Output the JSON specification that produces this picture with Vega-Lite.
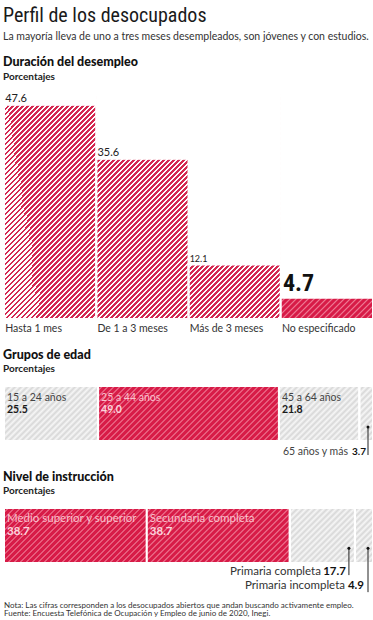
{
"$schema":"https://vega.github.io/schema/vega-lite/v6.json",
"background":"#ffffff",
"padding":{"left":3,"right":1,"top":5,"bottom":2},
"bounds":"flush",
"spacing":67,
"title":{"text":"Perfil de los desocupados","subtitle":"La mayoría lleva de uno a tres meses desempleados, son jóvenes y con estudios.","anchor":"start","font":"Liberation Sans Narrow, Roboto Condensed, DejaVu Sans Condensed, sans-serif","fontSize":20,"fontWeight":"normal","color":"#1a1a1a","subtitleFont":"Lato","subtitleFontSize":10.5,"subtitleFontWeight":"normal","subtitleColor":"#333333","subtitlePadding":6,"offset":14},
"config":{"font":"Lato","view":{"stroke":null},"title":{"anchor":"start","font":"Lato","fontSize":12.5,"fontWeight":900,"color":"#111111","subtitleFont":"Lato","subtitleFontSize":10,"subtitleFontWeight":"bold","subtitleColor":"#222222","subtitlePadding":3,"offset":11}},
"vconcat":[
{
"width":369,"height":225,
"title":{"text":"Duración del desempleo","subtitle":"Porcentajes"},
"view":{"fill":{"gradient":"linear","x1":0,"y1":0,"x2":0.98776,"y2":0.60229,"stops":[
{"offset":0,"color":"#d42851"},{"offset":0.005,"color":"#d42851"},{"offset":0.005,"color":"#fff"},{"offset":0.01,"color":"#fff"},
{"offset":0.01,"color":"#d42851"},{"offset":0.015,"color":"#d42851"},{"offset":0.015,"color":"#fff"},{"offset":0.02,"color":"#fff"},
{"offset":0.02,"color":"#d42851"},{"offset":0.025,"color":"#d42851"},{"offset":0.025,"color":"#fff"},{"offset":0.03,"color":"#fff"},
{"offset":0.03,"color":"#d42851"},{"offset":0.035,"color":"#d42851"},{"offset":0.035,"color":"#fff"},{"offset":0.04,"color":"#fff"},
{"offset":0.04,"color":"#d42851"},{"offset":0.045,"color":"#d42851"},{"offset":0.045,"color":"#fff"},{"offset":0.05,"color":"#fff"},
{"offset":0.05,"color":"#d42851"},{"offset":0.055,"color":"#d42851"},{"offset":0.055,"color":"#fff"},{"offset":0.06,"color":"#fff"},
{"offset":0.06,"color":"#d42851"},{"offset":0.065,"color":"#d42851"},{"offset":0.065,"color":"#fff"},{"offset":0.07,"color":"#fff"},
{"offset":0.07,"color":"#d42851"},{"offset":0.075,"color":"#d42851"},{"offset":0.075,"color":"#fff"},{"offset":0.08,"color":"#fff"},
{"offset":0.08,"color":"#d42851"},{"offset":0.085,"color":"#d42851"},{"offset":0.085,"color":"#fff"},{"offset":0.09,"color":"#fff"},
{"offset":0.09,"color":"#d42851"},{"offset":0.095,"color":"#d42851"},{"offset":0.095,"color":"#fff"},{"offset":0.1,"color":"#fff"},
{"offset":0.1,"color":"#d42851"},{"offset":0.105,"color":"#d42851"},{"offset":0.105,"color":"#fff"},{"offset":0.11,"color":"#fff"},
{"offset":0.11,"color":"#d42851"},{"offset":0.115,"color":"#d42851"},{"offset":0.115,"color":"#fff"},{"offset":0.12,"color":"#fff"},
{"offset":0.12,"color":"#d42851"},{"offset":0.125,"color":"#d42851"},{"offset":0.125,"color":"#fff"},{"offset":0.13,"color":"#fff"},
{"offset":0.13,"color":"#d42851"},{"offset":0.135,"color":"#d42851"},{"offset":0.135,"color":"#fff"},{"offset":0.14,"color":"#fff"},
{"offset":0.14,"color":"#d42851"},{"offset":0.145,"color":"#d42851"},{"offset":0.145,"color":"#fff"},{"offset":0.15,"color":"#fff"},
{"offset":0.15,"color":"#d42851"},{"offset":0.155,"color":"#d42851"},{"offset":0.155,"color":"#fff"},{"offset":0.16,"color":"#fff"},
{"offset":0.16,"color":"#d42851"},{"offset":0.165,"color":"#d42851"},{"offset":0.165,"color":"#fff"},{"offset":0.17,"color":"#fff"},
{"offset":0.17,"color":"#d42851"},{"offset":0.175,"color":"#d42851"},{"offset":0.175,"color":"#fff"},{"offset":0.18,"color":"#fff"},
{"offset":0.18,"color":"#d42851"},{"offset":0.185,"color":"#d42851"},{"offset":0.185,"color":"#fff"},{"offset":0.19,"color":"#fff"},
{"offset":0.19,"color":"#d42851"},{"offset":0.195,"color":"#d42851"},{"offset":0.195,"color":"#fff"},{"offset":0.2,"color":"#fff"},
{"offset":0.2,"color":"#d42851"},{"offset":0.205,"color":"#d42851"},{"offset":0.205,"color":"#fff"},{"offset":0.21,"color":"#fff"},
{"offset":0.21,"color":"#d42851"},{"offset":0.215,"color":"#d42851"},{"offset":0.215,"color":"#fff"},{"offset":0.22,"color":"#fff"},
{"offset":0.22,"color":"#d42851"},{"offset":0.225,"color":"#d42851"},{"offset":0.225,"color":"#fff"},{"offset":0.23,"color":"#fff"},
{"offset":0.23,"color":"#d42851"},{"offset":0.235,"color":"#d42851"},{"offset":0.235,"color":"#fff"},{"offset":0.24,"color":"#fff"},
{"offset":0.24,"color":"#d42851"},{"offset":0.245,"color":"#d42851"},{"offset":0.245,"color":"#fff"},{"offset":0.25,"color":"#fff"},
{"offset":0.25,"color":"#d42851"},{"offset":0.255,"color":"#d42851"},{"offset":0.255,"color":"#fff"},{"offset":0.26,"color":"#fff"},
{"offset":0.26,"color":"#d42851"},{"offset":0.265,"color":"#d42851"},{"offset":0.265,"color":"#fff"},{"offset":0.27,"color":"#fff"},
{"offset":0.27,"color":"#d42851"},{"offset":0.275,"color":"#d42851"},{"offset":0.275,"color":"#fff"},{"offset":0.28,"color":"#fff"},
{"offset":0.28,"color":"#d42851"},{"offset":0.285,"color":"#d42851"},{"offset":0.285,"color":"#fff"},{"offset":0.29,"color":"#fff"},
{"offset":0.29,"color":"#d42851"},{"offset":0.295,"color":"#d42851"},{"offset":0.295,"color":"#fff"},{"offset":0.3,"color":"#fff"},
{"offset":0.3,"color":"#d42851"},{"offset":0.305,"color":"#d42851"},{"offset":0.305,"color":"#fff"},{"offset":0.31,"color":"#fff"},
{"offset":0.31,"color":"#d42851"},{"offset":0.315,"color":"#d42851"},{"offset":0.315,"color":"#fff"},{"offset":0.32,"color":"#fff"},
{"offset":0.32,"color":"#d42851"},{"offset":0.325,"color":"#d42851"},{"offset":0.325,"color":"#fff"},{"offset":0.33,"color":"#fff"},
{"offset":0.33,"color":"#d42851"},{"offset":0.335,"color":"#d42851"},{"offset":0.335,"color":"#fff"},{"offset":0.34,"color":"#fff"},
{"offset":0.34,"color":"#d42851"},{"offset":0.345,"color":"#d42851"},{"offset":0.345,"color":"#fff"},{"offset":0.35,"color":"#fff"},
{"offset":0.35,"color":"#d42851"},{"offset":0.355,"color":"#d42851"},{"offset":0.355,"color":"#fff"},{"offset":0.36,"color":"#fff"},
{"offset":0.36,"color":"#d42851"},{"offset":0.365,"color":"#d42851"},{"offset":0.365,"color":"#fff"},{"offset":0.37,"color":"#fff"},
{"offset":0.37,"color":"#d42851"},{"offset":0.375,"color":"#d42851"},{"offset":0.375,"color":"#fff"},{"offset":0.38,"color":"#fff"},
{"offset":0.38,"color":"#d42851"},{"offset":0.385,"color":"#d42851"},{"offset":0.385,"color":"#fff"},{"offset":0.39,"color":"#fff"},
{"offset":0.39,"color":"#d42851"},{"offset":0.395,"color":"#d42851"},{"offset":0.395,"color":"#fff"},{"offset":0.4,"color":"#fff"},
{"offset":0.4,"color":"#d42851"},{"offset":0.405,"color":"#d42851"},{"offset":0.405,"color":"#fff"},{"offset":0.41,"color":"#fff"},
{"offset":0.41,"color":"#d42851"},{"offset":0.415,"color":"#d42851"},{"offset":0.415,"color":"#fff"},{"offset":0.42,"color":"#fff"},
{"offset":0.42,"color":"#d42851"},{"offset":0.425,"color":"#d42851"},{"offset":0.425,"color":"#fff"},{"offset":0.43,"color":"#fff"},
{"offset":0.43,"color":"#d42851"},{"offset":0.435,"color":"#d42851"},{"offset":0.435,"color":"#fff"},{"offset":0.44,"color":"#fff"},
{"offset":0.44,"color":"#d42851"},{"offset":0.445,"color":"#d42851"},{"offset":0.445,"color":"#fff"},{"offset":0.45,"color":"#fff"},
{"offset":0.45,"color":"#d42851"},{"offset":0.455,"color":"#d42851"},{"offset":0.455,"color":"#fff"},{"offset":0.46,"color":"#fff"},
{"offset":0.46,"color":"#d42851"},{"offset":0.465,"color":"#d42851"},{"offset":0.465,"color":"#fff"},{"offset":0.47,"color":"#fff"},
{"offset":0.47,"color":"#d42851"},{"offset":0.475,"color":"#d42851"},{"offset":0.475,"color":"#fff"},{"offset":0.48,"color":"#fff"},
{"offset":0.48,"color":"#d42851"},{"offset":0.485,"color":"#d42851"},{"offset":0.485,"color":"#fff"},{"offset":0.49,"color":"#fff"},
{"offset":0.49,"color":"#d42851"},{"offset":0.495,"color":"#d42851"},{"offset":0.495,"color":"#fff"},{"offset":0.5,"color":"#fff"},
{"offset":0.5,"color":"#d42851"},{"offset":0.505,"color":"#d42851"},{"offset":0.505,"color":"#fff"},{"offset":0.51,"color":"#fff"},
{"offset":0.51,"color":"#d42851"},{"offset":0.515,"color":"#d42851"},{"offset":0.515,"color":"#fff"},{"offset":0.52,"color":"#fff"},
{"offset":0.52,"color":"#d42851"},{"offset":0.525,"color":"#d42851"},{"offset":0.525,"color":"#fff"},{"offset":0.53,"color":"#fff"},
{"offset":0.53,"color":"#d42851"},{"offset":0.535,"color":"#d42851"},{"offset":0.535,"color":"#fff"},{"offset":0.54,"color":"#fff"},
{"offset":0.54,"color":"#d42851"},{"offset":0.545,"color":"#d42851"},{"offset":0.545,"color":"#fff"},{"offset":0.55,"color":"#fff"},
{"offset":0.55,"color":"#d42851"},{"offset":0.555,"color":"#d42851"},{"offset":0.555,"color":"#fff"},{"offset":0.56,"color":"#fff"},
{"offset":0.56,"color":"#d42851"},{"offset":0.565,"color":"#d42851"},{"offset":0.565,"color":"#fff"},{"offset":0.57,"color":"#fff"},
{"offset":0.57,"color":"#d42851"},{"offset":0.575,"color":"#d42851"},{"offset":0.575,"color":"#fff"},{"offset":0.58,"color":"#fff"},
{"offset":0.58,"color":"#d42851"},{"offset":0.585,"color":"#d42851"},{"offset":0.585,"color":"#fff"},{"offset":0.59,"color":"#fff"},
{"offset":0.59,"color":"#d42851"},{"offset":0.595,"color":"#d42851"},{"offset":0.595,"color":"#fff"},{"offset":0.6,"color":"#fff"},
{"offset":0.6,"color":"#d42851"},{"offset":0.605,"color":"#d42851"},{"offset":0.605,"color":"#fff"},{"offset":0.61,"color":"#fff"},
{"offset":0.61,"color":"#d42851"},{"offset":0.615,"color":"#d42851"},{"offset":0.615,"color":"#fff"},{"offset":0.62,"color":"#fff"},
{"offset":0.62,"color":"#d42851"},{"offset":0.625,"color":"#d42851"},{"offset":0.625,"color":"#fff"},{"offset":0.63,"color":"#fff"},
{"offset":0.63,"color":"#d42851"},{"offset":0.635,"color":"#d42851"},{"offset":0.635,"color":"#fff"},{"offset":0.64,"color":"#fff"},
{"offset":0.64,"color":"#d42851"},{"offset":0.645,"color":"#d42851"},{"offset":0.645,"color":"#fff"},{"offset":0.65,"color":"#fff"},
{"offset":0.65,"color":"#d42851"},{"offset":0.655,"color":"#d42851"},{"offset":0.655,"color":"#fff"},{"offset":0.66,"color":"#fff"},
{"offset":0.66,"color":"#d42851"},{"offset":0.665,"color":"#d42851"},{"offset":0.665,"color":"#fff"},{"offset":0.67,"color":"#fff"},
{"offset":0.67,"color":"#d42851"},{"offset":0.675,"color":"#d42851"},{"offset":0.675,"color":"#fff"},{"offset":0.68,"color":"#fff"},
{"offset":0.68,"color":"#d42851"},{"offset":0.685,"color":"#d42851"},{"offset":0.685,"color":"#fff"},{"offset":0.69,"color":"#fff"},
{"offset":0.69,"color":"#d42851"},{"offset":0.695,"color":"#d42851"},{"offset":0.695,"color":"#fff"},{"offset":0.7,"color":"#fff"},
{"offset":0.7,"color":"#d42851"},{"offset":0.705,"color":"#d42851"},{"offset":0.705,"color":"#fff"},{"offset":0.71,"color":"#fff"},
{"offset":0.71,"color":"#d42851"},{"offset":0.715,"color":"#d42851"},{"offset":0.715,"color":"#fff"},{"offset":0.72,"color":"#fff"},
{"offset":0.72,"color":"#d42851"},{"offset":0.725,"color":"#d42851"},{"offset":0.725,"color":"#fff"},{"offset":0.73,"color":"#fff"},
{"offset":0.73,"color":"#d42851"},{"offset":0.735,"color":"#d42851"},{"offset":0.735,"color":"#fff"},{"offset":0.74,"color":"#fff"},
{"offset":0.74,"color":"#d42851"},{"offset":0.745,"color":"#d42851"},{"offset":0.745,"color":"#fff"},{"offset":0.75,"color":"#fff"},
{"offset":0.75,"color":"#d42851"},{"offset":0.755,"color":"#d42851"},{"offset":0.755,"color":"#fff"},{"offset":0.76,"color":"#fff"},
{"offset":0.76,"color":"#d42851"},{"offset":0.765,"color":"#d42851"},{"offset":0.765,"color":"#fff"},{"offset":0.77,"color":"#fff"},
{"offset":0.77,"color":"#d42851"},{"offset":0.775,"color":"#d42851"},{"offset":0.775,"color":"#fff"},{"offset":0.78,"color":"#fff"},
{"offset":0.78,"color":"#d42851"},{"offset":0.785,"color":"#d42851"},{"offset":0.785,"color":"#fff"},{"offset":0.79,"color":"#fff"},
{"offset":0.79,"color":"#d42851"},{"offset":0.795,"color":"#d42851"},{"offset":0.795,"color":"#fff"},{"offset":0.8,"color":"#fff"},
{"offset":0.8,"color":"#d42851"},{"offset":0.805,"color":"#d42851"},{"offset":0.805,"color":"#fff"},{"offset":0.81,"color":"#fff"},
{"offset":0.81,"color":"#d42851"},{"offset":0.815,"color":"#d42851"},{"offset":0.815,"color":"#fff"},{"offset":0.82,"color":"#fff"},
{"offset":0.82,"color":"#d42851"},{"offset":0.825,"color":"#d42851"},{"offset":0.825,"color":"#fff"},{"offset":0.83,"color":"#fff"},
{"offset":0.83,"color":"#d42851"},{"offset":0.835,"color":"#d42851"},{"offset":0.835,"color":"#fff"},{"offset":0.84,"color":"#fff"},
{"offset":0.84,"color":"#d42851"},{"offset":0.845,"color":"#d42851"},{"offset":0.845,"color":"#fff"},{"offset":0.85,"color":"#fff"},
{"offset":0.85,"color":"#d42851"},{"offset":0.855,"color":"#d42851"},{"offset":0.855,"color":"#fff"},{"offset":0.86,"color":"#fff"},
{"offset":0.86,"color":"#d42851"},{"offset":0.865,"color":"#d42851"},{"offset":0.865,"color":"#fff"},{"offset":0.87,"color":"#fff"},
{"offset":0.87,"color":"#d42851"},{"offset":0.875,"color":"#d42851"},{"offset":0.875,"color":"#fff"},{"offset":0.88,"color":"#fff"},
{"offset":0.88,"color":"#d42851"},{"offset":0.885,"color":"#d42851"},{"offset":0.885,"color":"#fff"},{"offset":0.89,"color":"#fff"},
{"offset":0.89,"color":"#d42851"},{"offset":0.895,"color":"#d42851"},{"offset":0.895,"color":"#fff"},{"offset":0.9,"color":"#fff"},
{"offset":0.9,"color":"#d42851"},{"offset":0.905,"color":"#d42851"},{"offset":0.905,"color":"#fff"},{"offset":0.91,"color":"#fff"},
{"offset":0.91,"color":"#d42851"},{"offset":0.915,"color":"#d42851"},{"offset":0.915,"color":"#fff"},{"offset":0.92,"color":"#fff"},
{"offset":0.92,"color":"#d42851"},{"offset":0.925,"color":"#d42851"},{"offset":0.925,"color":"#fff"},{"offset":0.93,"color":"#fff"},
{"offset":0.93,"color":"#d42851"},{"offset":0.935,"color":"#d42851"},{"offset":0.935,"color":"#fff"},{"offset":0.94,"color":"#fff"},
{"offset":0.94,"color":"#d42851"},{"offset":0.945,"color":"#d42851"},{"offset":0.945,"color":"#fff"},{"offset":0.95,"color":"#fff"},
{"offset":0.95,"color":"#d42851"},{"offset":0.955,"color":"#d42851"},{"offset":0.955,"color":"#fff"},{"offset":0.96,"color":"#fff"},
{"offset":0.96,"color":"#d42851"},{"offset":0.965,"color":"#d42851"},{"offset":0.965,"color":"#fff"},{"offset":0.97,"color":"#fff"},
{"offset":0.97,"color":"#d42851"},{"offset":0.975,"color":"#d42851"},{"offset":0.975,"color":"#fff"},{"offset":0.98,"color":"#fff"},
{"offset":0.98,"color":"#d42851"},{"offset":0.985,"color":"#d42851"},{"offset":0.985,"color":"#fff"},{"offset":0.99,"color":"#fff"},
{"offset":0.99,"color":"#d42851"},{"offset":0.995,"color":"#d42851"},{"offset":0.995,"color":"#fff"},{"offset":1,"color":"#fff"}
]}},
"data":{"values":[
{"duracion":"Hasta 1 mes","pct":47.6},
{"duracion":"De 1 a 3 meses","pct":35.6},
{"duracion":"Más de 3 meses","pct":12.1},
{"duracion":"No especificado","pct":4.7}
]},
"encoding":{
"x":{"field":"duracion","type":"nominal","sort":null,"scale":{"paddingInner":0,"paddingOuter":0},"axis":{"title":null,"domain":false,"ticks":false,"labelAngle":0,"labelAlign":"left","labelOffset":-45,"labelPadding":4,"labelFontSize":10.5,"labelFont":"Lato","labelColor":"#333333","labelOverlap":false,"labelBound":false}},
"y":{"field":"pct","type":"quantitative","scale":{"domain":[0,50]},"axis":null}
},
"layer":[
{"mark":{"type":"bar","fill":"#ffffff","stroke":"#ffffff","strokeWidth":1},"encoding":{"y2":{"datum":50}}},
{"mark":{"type":"bar","fill":"transparent","stroke":"#ffffff","strokeWidth":2}},
{"transform":[{"filter":"datum.duracion === 'No especificado'"}],
 "mark":{"type":"bar","stroke":"#ffffff","strokeWidth":2,"fill":{"gradient":"linear","x1":0,"y1":0,"x2":3.0897,"y2":0.70835,"stops":[
{"offset":0,"color":"#d71b47"},{"offset":0.01,"color":"#d71b47"},{"offset":0.015,"color":"#ef7d96"},
{"offset":0.02,"color":"#d71b47"},{"offset":0.03,"color":"#d71b47"},{"offset":0.035,"color":"#ef7d96"},
{"offset":0.04,"color":"#d71b47"},{"offset":0.05,"color":"#d71b47"},{"offset":0.055,"color":"#ef7d96"},
{"offset":0.06,"color":"#d71b47"},{"offset":0.07,"color":"#d71b47"},{"offset":0.075,"color":"#ef7d96"},
{"offset":0.08,"color":"#d71b47"},{"offset":0.09,"color":"#d71b47"},{"offset":0.095,"color":"#ef7d96"},
{"offset":0.1,"color":"#d71b47"},{"offset":0.11,"color":"#d71b47"},{"offset":0.115,"color":"#ef7d96"},
{"offset":0.12,"color":"#d71b47"},{"offset":0.13,"color":"#d71b47"},{"offset":0.135,"color":"#ef7d96"},
{"offset":0.14,"color":"#d71b47"},{"offset":0.15,"color":"#d71b47"},{"offset":0.155,"color":"#ef7d96"},
{"offset":0.16,"color":"#d71b47"},{"offset":0.17,"color":"#d71b47"},{"offset":0.175,"color":"#ef7d96"},
{"offset":0.18,"color":"#d71b47"},{"offset":0.19,"color":"#d71b47"},{"offset":0.195,"color":"#ef7d96"},
{"offset":0.2,"color":"#d71b47"},{"offset":0.21,"color":"#d71b47"},{"offset":0.215,"color":"#ef7d96"},
{"offset":0.22,"color":"#d71b47"},{"offset":0.23,"color":"#d71b47"},{"offset":0.235,"color":"#ef7d96"},
{"offset":0.24,"color":"#d71b47"},{"offset":0.25,"color":"#d71b47"},{"offset":0.255,"color":"#ef7d96"},
{"offset":0.26,"color":"#d71b47"},{"offset":0.27,"color":"#d71b47"},{"offset":0.275,"color":"#ef7d96"},
{"offset":0.28,"color":"#d71b47"},{"offset":0.29,"color":"#d71b47"},{"offset":0.295,"color":"#ef7d96"},
{"offset":0.3,"color":"#d71b47"},{"offset":0.31,"color":"#d71b47"},{"offset":0.315,"color":"#ef7d96"},
{"offset":0.32,"color":"#d71b47"},{"offset":0.33,"color":"#d71b47"},{"offset":0.335,"color":"#ef7d96"},
{"offset":0.34,"color":"#d71b47"},{"offset":0.35,"color":"#d71b47"},{"offset":0.355,"color":"#ef7d96"},
{"offset":0.36,"color":"#d71b47"},{"offset":0.37,"color":"#d71b47"},{"offset":0.375,"color":"#ef7d96"},
{"offset":0.38,"color":"#d71b47"}
]}}},
{"transform":[{"filter":"datum.duracion !== 'No especificado'"}],
 "mark":{"type":"text","align":"left","baseline":"bottom","dx":-45,"dy":-1,"color":"#222222","font":"Lato"},
 "encoding":{"text":{"field":"pct","type":"quantitative","format":".1f"},"size":{"condition":{"test":"datum.duracion === 'Más de 3 meses'","value":9},"value":11}}},
{"transform":[{"filter":"datum.duracion === 'No especificado'"}],
 "mark":{"type":"text","align":"left","baseline":"bottom","dx":-44,"dy":-2,"font":"Liberation Sans Narrow, Roboto Condensed, DejaVu Sans Condensed, sans-serif","fontSize":24,"fontWeight":"bold","color":"#111111"},
 "encoding":{"text":{"field":"pct","type":"quantitative","format":".1f"}}}
]
},
{
"width":369,"height":55,
"title":{"text":"Grupos de edad","subtitle":"Porcentajes"},
"view":{"fill":{"gradient":"linear","x1":0,"y1":0,"x2":1.59068,"y2":0.23709,"stops":[
{"offset":0,"color":"#d9d9d9"},{"offset":0.005,"color":"#f5f5f5"},{"offset":0.01,"color":"#d9d9d9"},{"offset":0.015,"color":"#f5f5f5"},
{"offset":0.02,"color":"#d9d9d9"},{"offset":0.025,"color":"#f5f5f5"},{"offset":0.03,"color":"#d9d9d9"},{"offset":0.035,"color":"#f5f5f5"},
{"offset":0.04,"color":"#d9d9d9"},{"offset":0.045,"color":"#f5f5f5"},{"offset":0.05,"color":"#d9d9d9"},{"offset":0.055,"color":"#f5f5f5"},
{"offset":0.06,"color":"#d9d9d9"},{"offset":0.065,"color":"#f5f5f5"},{"offset":0.07,"color":"#d9d9d9"},{"offset":0.075,"color":"#f5f5f5"},
{"offset":0.08,"color":"#d9d9d9"},{"offset":0.085,"color":"#f5f5f5"},{"offset":0.09,"color":"#d9d9d9"},{"offset":0.095,"color":"#f5f5f5"},
{"offset":0.1,"color":"#d9d9d9"},{"offset":0.105,"color":"#f5f5f5"},{"offset":0.11,"color":"#d9d9d9"},{"offset":0.115,"color":"#f5f5f5"},
{"offset":0.12,"color":"#d9d9d9"},{"offset":0.125,"color":"#f5f5f5"},{"offset":0.13,"color":"#d9d9d9"},{"offset":0.135,"color":"#f5f5f5"},
{"offset":0.14,"color":"#d9d9d9"},{"offset":0.145,"color":"#f5f5f5"},{"offset":0.15,"color":"#d9d9d9"},{"offset":0.155,"color":"#f5f5f5"},
{"offset":0.16,"color":"#d9d9d9"},{"offset":0.165,"color":"#f5f5f5"},{"offset":0.17,"color":"#d9d9d9"},{"offset":0.175,"color":"#f5f5f5"},
{"offset":0.18,"color":"#d9d9d9"},{"offset":0.185,"color":"#f5f5f5"},{"offset":0.19,"color":"#d9d9d9"},{"offset":0.195,"color":"#f5f5f5"},
{"offset":0.2,"color":"#d9d9d9"},{"offset":0.205,"color":"#f5f5f5"},{"offset":0.21,"color":"#d9d9d9"},{"offset":0.215,"color":"#f5f5f5"},
{"offset":0.22,"color":"#d9d9d9"},{"offset":0.225,"color":"#f5f5f5"},{"offset":0.23,"color":"#d9d9d9"},{"offset":0.235,"color":"#f5f5f5"},
{"offset":0.24,"color":"#d9d9d9"},{"offset":0.245,"color":"#f5f5f5"},{"offset":0.25,"color":"#d9d9d9"},{"offset":0.255,"color":"#f5f5f5"},
{"offset":0.26,"color":"#d9d9d9"},{"offset":0.265,"color":"#f5f5f5"},{"offset":0.27,"color":"#d9d9d9"},{"offset":0.275,"color":"#f5f5f5"},
{"offset":0.28,"color":"#d9d9d9"},{"offset":0.285,"color":"#f5f5f5"},{"offset":0.29,"color":"#d9d9d9"},{"offset":0.295,"color":"#f5f5f5"},
{"offset":0.3,"color":"#d9d9d9"},{"offset":0.305,"color":"#f5f5f5"},{"offset":0.31,"color":"#d9d9d9"},{"offset":0.315,"color":"#f5f5f5"},
{"offset":0.32,"color":"#d9d9d9"},{"offset":0.325,"color":"#f5f5f5"},{"offset":0.33,"color":"#d9d9d9"},{"offset":0.335,"color":"#f5f5f5"},
{"offset":0.34,"color":"#d9d9d9"},{"offset":0.345,"color":"#f5f5f5"},{"offset":0.35,"color":"#d9d9d9"},{"offset":0.355,"color":"#f5f5f5"},
{"offset":0.36,"color":"#d9d9d9"},{"offset":0.365,"color":"#f5f5f5"},{"offset":0.37,"color":"#d9d9d9"},{"offset":0.375,"color":"#f5f5f5"},
{"offset":0.38,"color":"#d9d9d9"},{"offset":0.385,"color":"#f5f5f5"},{"offset":0.39,"color":"#d9d9d9"},{"offset":0.395,"color":"#f5f5f5"},
{"offset":0.4,"color":"#d9d9d9"},{"offset":0.405,"color":"#f5f5f5"},{"offset":0.41,"color":"#d9d9d9"},{"offset":0.415,"color":"#f5f5f5"},
{"offset":0.42,"color":"#d9d9d9"},{"offset":0.425,"color":"#f5f5f5"},{"offset":0.43,"color":"#d9d9d9"},{"offset":0.435,"color":"#f5f5f5"},
{"offset":0.44,"color":"#d9d9d9"},{"offset":0.445,"color":"#f5f5f5"},{"offset":0.45,"color":"#d9d9d9"},{"offset":0.455,"color":"#f5f5f5"},
{"offset":0.46,"color":"#d9d9d9"},{"offset":0.465,"color":"#f5f5f5"},{"offset":0.47,"color":"#d9d9d9"},{"offset":0.475,"color":"#f5f5f5"},
{"offset":0.48,"color":"#d9d9d9"},{"offset":0.485,"color":"#f5f5f5"},{"offset":0.49,"color":"#d9d9d9"},{"offset":0.495,"color":"#f5f5f5"},
{"offset":0.5,"color":"#d9d9d9"},{"offset":0.505,"color":"#f5f5f5"},{"offset":0.51,"color":"#d9d9d9"},{"offset":0.515,"color":"#f5f5f5"},
{"offset":0.52,"color":"#d9d9d9"},{"offset":0.525,"color":"#f5f5f5"},{"offset":0.53,"color":"#d9d9d9"},{"offset":0.535,"color":"#f5f5f5"},
{"offset":0.54,"color":"#d9d9d9"},{"offset":0.545,"color":"#f5f5f5"},{"offset":0.55,"color":"#d9d9d9"},{"offset":0.555,"color":"#f5f5f5"},
{"offset":0.56,"color":"#d9d9d9"},{"offset":0.565,"color":"#f5f5f5"},{"offset":0.57,"color":"#d9d9d9"},{"offset":0.575,"color":"#f5f5f5"},
{"offset":0.58,"color":"#d9d9d9"},{"offset":0.585,"color":"#f5f5f5"},{"offset":0.59,"color":"#d9d9d9"},{"offset":0.595,"color":"#f5f5f5"},
{"offset":0.6,"color":"#d9d9d9"},{"offset":0.605,"color":"#f5f5f5"},{"offset":0.61,"color":"#d9d9d9"},{"offset":0.615,"color":"#f5f5f5"},
{"offset":0.62,"color":"#d9d9d9"},{"offset":0.625,"color":"#f5f5f5"},{"offset":0.63,"color":"#d9d9d9"},{"offset":0.635,"color":"#f5f5f5"},
{"offset":0.64,"color":"#d9d9d9"},{"offset":0.645,"color":"#f5f5f5"},{"offset":0.65,"color":"#d9d9d9"},{"offset":0.655,"color":"#f5f5f5"},
{"offset":0.66,"color":"#d9d9d9"},{"offset":0.665,"color":"#f5f5f5"},{"offset":0.67,"color":"#d9d9d9"},{"offset":0.675,"color":"#f5f5f5"},
{"offset":0.68,"color":"#d9d9d9"},{"offset":0.685,"color":"#f5f5f5"},{"offset":0.69,"color":"#d9d9d9"},{"offset":0.695,"color":"#f5f5f5"},
{"offset":0.7,"color":"#d9d9d9"},{"offset":0.705,"color":"#f5f5f5"},{"offset":0.71,"color":"#d9d9d9"}
]}},
"data":{"values":[
{"grupo":"15 a 24 años","pct":25.5,"orden":1},
{"grupo":"25 a 44 años","pct":49.0,"orden":2},
{"grupo":"45 a 64 años","pct":21.8,"orden":3},
{"grupo":"65 años y más","pct":3.7,"orden":4}
]},
"transform":[{"stack":"pct","groupby":[],"sort":[{"field":"orden","order":"ascending"}],"as":["x0","x1"]}],
"encoding":{"x":{"field":"x0","type":"quantitative","scale":{"domain":[0,100]},"axis":null}},
"layer":[
{"mark":{"type":"rect","fill":"transparent","stroke":"#ffffff","strokeWidth":2},
 "encoding":{"x2":{"field":"x1"},"y":{"datum":0,"type":"quantitative","scale":{"domain":[0,1]},"axis":null},"y2":{"datum":1}}},
{"transform":[{"filter":"datum.grupo === '25 a 44 años'"}],
 "mark":{"type":"rect","stroke":"#ffffff","strokeWidth":2,"fill":{"gradient":"linear","x1":0,"y1":0,"x2":1.51869,"y2":0.46197,"stops":[
{"offset":0,"color":"#d71b47"},{"offset":0.01,"color":"#d71b47"},{"offset":0.015,"color":"#ef7d96"},
{"offset":0.02,"color":"#d71b47"},{"offset":0.03,"color":"#d71b47"},{"offset":0.035,"color":"#ef7d96"},
{"offset":0.04,"color":"#d71b47"},{"offset":0.05,"color":"#d71b47"},{"offset":0.055,"color":"#ef7d96"},
{"offset":0.06,"color":"#d71b47"},{"offset":0.07,"color":"#d71b47"},{"offset":0.075,"color":"#ef7d96"},
{"offset":0.08,"color":"#d71b47"},{"offset":0.09,"color":"#d71b47"},{"offset":0.095,"color":"#ef7d96"},
{"offset":0.1,"color":"#d71b47"},{"offset":0.11,"color":"#d71b47"},{"offset":0.115,"color":"#ef7d96"},
{"offset":0.12,"color":"#d71b47"},{"offset":0.13,"color":"#d71b47"},{"offset":0.135,"color":"#ef7d96"},
{"offset":0.14,"color":"#d71b47"},{"offset":0.15,"color":"#d71b47"},{"offset":0.155,"color":"#ef7d96"},
{"offset":0.16,"color":"#d71b47"},{"offset":0.17,"color":"#d71b47"},{"offset":0.175,"color":"#ef7d96"},
{"offset":0.18,"color":"#d71b47"},{"offset":0.19,"color":"#d71b47"},{"offset":0.195,"color":"#ef7d96"},
{"offset":0.2,"color":"#d71b47"},{"offset":0.21,"color":"#d71b47"},{"offset":0.215,"color":"#ef7d96"},
{"offset":0.22,"color":"#d71b47"},{"offset":0.23,"color":"#d71b47"},{"offset":0.235,"color":"#ef7d96"},
{"offset":0.24,"color":"#d71b47"},{"offset":0.25,"color":"#d71b47"},{"offset":0.255,"color":"#ef7d96"},
{"offset":0.26,"color":"#d71b47"},{"offset":0.27,"color":"#d71b47"},{"offset":0.275,"color":"#ef7d96"},
{"offset":0.28,"color":"#d71b47"},{"offset":0.29,"color":"#d71b47"},{"offset":0.295,"color":"#ef7d96"},
{"offset":0.3,"color":"#d71b47"},{"offset":0.31,"color":"#d71b47"},{"offset":0.315,"color":"#ef7d96"},
{"offset":0.32,"color":"#d71b47"},{"offset":0.33,"color":"#d71b47"},{"offset":0.335,"color":"#ef7d96"},
{"offset":0.34,"color":"#d71b47"},{"offset":0.35,"color":"#d71b47"},{"offset":0.355,"color":"#ef7d96"},
{"offset":0.36,"color":"#d71b47"},{"offset":0.37,"color":"#d71b47"},{"offset":0.375,"color":"#ef7d96"},
{"offset":0.38,"color":"#d71b47"},{"offset":0.39,"color":"#d71b47"},{"offset":0.395,"color":"#ef7d96"},
{"offset":0.4,"color":"#d71b47"},{"offset":0.41,"color":"#d71b47"},{"offset":0.415,"color":"#ef7d96"},
{"offset":0.42,"color":"#d71b47"},{"offset":0.43,"color":"#d71b47"},{"offset":0.435,"color":"#ef7d96"},
{"offset":0.44,"color":"#d71b47"},{"offset":0.45,"color":"#d71b47"},{"offset":0.455,"color":"#ef7d96"},
{"offset":0.46,"color":"#d71b47"},{"offset":0.47,"color":"#d71b47"},{"offset":0.475,"color":"#ef7d96"},
{"offset":0.48,"color":"#d71b47"},{"offset":0.49,"color":"#d71b47"},{"offset":0.495,"color":"#ef7d96"},
{"offset":0.5,"color":"#d71b47"},{"offset":0.51,"color":"#d71b47"},{"offset":0.515,"color":"#ef7d96"},
{"offset":0.52,"color":"#d71b47"},{"offset":0.53,"color":"#d71b47"},{"offset":0.535,"color":"#ef7d96"},
{"offset":0.54,"color":"#d71b47"},{"offset":0.55,"color":"#d71b47"},{"offset":0.555,"color":"#ef7d96"},
{"offset":0.56,"color":"#d71b47"},{"offset":0.57,"color":"#d71b47"},{"offset":0.575,"color":"#ef7d96"},
{"offset":0.58,"color":"#d71b47"},{"offset":0.59,"color":"#d71b47"},{"offset":0.595,"color":"#ef7d96"},
{"offset":0.6,"color":"#d71b47"},{"offset":0.61,"color":"#d71b47"},{"offset":0.615,"color":"#ef7d96"},
{"offset":0.62,"color":"#d71b47"},{"offset":0.63,"color":"#d71b47"},{"offset":0.635,"color":"#ef7d96"},
{"offset":0.64,"color":"#d71b47"},{"offset":0.65,"color":"#d71b47"},{"offset":0.655,"color":"#ef7d96"},
{"offset":0.66,"color":"#d71b47"},{"offset":0.67,"color":"#d71b47"},{"offset":0.675,"color":"#ef7d96"},
{"offset":0.68,"color":"#d71b47"},{"offset":0.69,"color":"#d71b47"},{"offset":0.695,"color":"#ef7d96"},
{"offset":0.7,"color":"#d71b47"},{"offset":0.71,"color":"#d71b47"},{"offset":0.715,"color":"#ef7d96"},
{"offset":0.72,"color":"#d71b47"},{"offset":0.73,"color":"#d71b47"},{"offset":0.735,"color":"#ef7d96"},
{"offset":0.74,"color":"#d71b47"},{"offset":0.75,"color":"#d71b47"},{"offset":0.755,"color":"#ef7d96"},
{"offset":0.76,"color":"#d71b47"},{"offset":0.77,"color":"#d71b47"},{"offset":0.775,"color":"#ef7d96"},
{"offset":0.78,"color":"#d71b47"},{"offset":0.79,"color":"#d71b47"},{"offset":0.795,"color":"#ef7d96"},
{"offset":0.8,"color":"#d71b47"}
]}},
 "encoding":{"x2":{"field":"x1"},"y":{"datum":0,"type":"quantitative"},"y2":{"datum":1}}},
{"transform":[{"filter":"datum.pct > 10"}],
 "mark":{"type":"text","align":"left","baseline":"middle","dx":3,"fontSize":10.5,"font":"Lato"},
 "encoding":{"y":{"datum":0.78,"type":"quantitative"},"text":{"field":"grupo","type":"nominal"},"color":{"condition":{"test":"datum.grupo === '25 a 44 años'","value":"#f9c0cd"},"value":"#444444"}}},
{"transform":[{"filter":"datum.pct > 10"}],
 "mark":{"type":"text","align":"left","baseline":"middle","dx":3,"fontSize":10.5,"fontWeight":"bold","font":"Lato"},
 "encoding":{"y":{"datum":0.56,"type":"quantitative"},"text":{"field":"pct","type":"quantitative","format":".1f"},"color":{"condition":{"test":"datum.grupo === '25 a 44 años'","value":"#fbd3dc"},"value":"#1a1a1a"}}},
{"transform":[{"filter":"datum.pct < 10"}],
 "encoding":{"x":{"field":"x1","type":"quantitative"}},
 "layer":[
 {"mark":{"type":"rule","xOffset":-5,"color":"#222222","strokeWidth":1},"encoding":{"y":{"datum":0.255,"type":"quantitative"},"y2":{"datum":-0.255}}},
 {"mark":{"type":"circle","xOffset":-5,"size":9,"color":"#111111","opacity":1},"encoding":{"y":{"datum":0.255,"type":"quantitative"}}},
 {"mark":{"type":"text","align":"right","baseline":"middle","dx":-7,"fontSize":10,"fontWeight":"bold","color":"#111111","font":"Lato"},"encoding":{"y":{"datum":-0.2,"type":"quantitative"},"text":{"field":"pct","type":"quantitative","format":".1f"}}},
 {"mark":{"type":"text","align":"right","baseline":"middle","dx":-25,"fontSize":10.5,"color":"#444444","font":"Lato"},"encoding":{"y":{"datum":-0.2,"type":"quantitative"},"text":{"field":"grupo","type":"nominal"}}}
 ]}
]
},
{
"width":369,"height":55,
"title":{"text":"Nivel de instrucción","subtitle":"Porcentajes"},
"view":{"fill":{"gradient":"linear","x1":0,"y1":0,"x2":1.59068,"y2":0.23709,"stops":[
{"offset":0,"color":"#d9d9d9"},{"offset":0.005,"color":"#f5f5f5"},{"offset":0.01,"color":"#d9d9d9"},{"offset":0.015,"color":"#f5f5f5"},
{"offset":0.02,"color":"#d9d9d9"},{"offset":0.025,"color":"#f5f5f5"},{"offset":0.03,"color":"#d9d9d9"},{"offset":0.035,"color":"#f5f5f5"},
{"offset":0.04,"color":"#d9d9d9"},{"offset":0.045,"color":"#f5f5f5"},{"offset":0.05,"color":"#d9d9d9"},{"offset":0.055,"color":"#f5f5f5"},
{"offset":0.06,"color":"#d9d9d9"},{"offset":0.065,"color":"#f5f5f5"},{"offset":0.07,"color":"#d9d9d9"},{"offset":0.075,"color":"#f5f5f5"},
{"offset":0.08,"color":"#d9d9d9"},{"offset":0.085,"color":"#f5f5f5"},{"offset":0.09,"color":"#d9d9d9"},{"offset":0.095,"color":"#f5f5f5"},
{"offset":0.1,"color":"#d9d9d9"},{"offset":0.105,"color":"#f5f5f5"},{"offset":0.11,"color":"#d9d9d9"},{"offset":0.115,"color":"#f5f5f5"},
{"offset":0.12,"color":"#d9d9d9"},{"offset":0.125,"color":"#f5f5f5"},{"offset":0.13,"color":"#d9d9d9"},{"offset":0.135,"color":"#f5f5f5"},
{"offset":0.14,"color":"#d9d9d9"},{"offset":0.145,"color":"#f5f5f5"},{"offset":0.15,"color":"#d9d9d9"},{"offset":0.155,"color":"#f5f5f5"},
{"offset":0.16,"color":"#d9d9d9"},{"offset":0.165,"color":"#f5f5f5"},{"offset":0.17,"color":"#d9d9d9"},{"offset":0.175,"color":"#f5f5f5"},
{"offset":0.18,"color":"#d9d9d9"},{"offset":0.185,"color":"#f5f5f5"},{"offset":0.19,"color":"#d9d9d9"},{"offset":0.195,"color":"#f5f5f5"},
{"offset":0.2,"color":"#d9d9d9"},{"offset":0.205,"color":"#f5f5f5"},{"offset":0.21,"color":"#d9d9d9"},{"offset":0.215,"color":"#f5f5f5"},
{"offset":0.22,"color":"#d9d9d9"},{"offset":0.225,"color":"#f5f5f5"},{"offset":0.23,"color":"#d9d9d9"},{"offset":0.235,"color":"#f5f5f5"},
{"offset":0.24,"color":"#d9d9d9"},{"offset":0.245,"color":"#f5f5f5"},{"offset":0.25,"color":"#d9d9d9"},{"offset":0.255,"color":"#f5f5f5"},
{"offset":0.26,"color":"#d9d9d9"},{"offset":0.265,"color":"#f5f5f5"},{"offset":0.27,"color":"#d9d9d9"},{"offset":0.275,"color":"#f5f5f5"},
{"offset":0.28,"color":"#d9d9d9"},{"offset":0.285,"color":"#f5f5f5"},{"offset":0.29,"color":"#d9d9d9"},{"offset":0.295,"color":"#f5f5f5"},
{"offset":0.3,"color":"#d9d9d9"},{"offset":0.305,"color":"#f5f5f5"},{"offset":0.31,"color":"#d9d9d9"},{"offset":0.315,"color":"#f5f5f5"},
{"offset":0.32,"color":"#d9d9d9"},{"offset":0.325,"color":"#f5f5f5"},{"offset":0.33,"color":"#d9d9d9"},{"offset":0.335,"color":"#f5f5f5"},
{"offset":0.34,"color":"#d9d9d9"},{"offset":0.345,"color":"#f5f5f5"},{"offset":0.35,"color":"#d9d9d9"},{"offset":0.355,"color":"#f5f5f5"},
{"offset":0.36,"color":"#d9d9d9"},{"offset":0.365,"color":"#f5f5f5"},{"offset":0.37,"color":"#d9d9d9"},{"offset":0.375,"color":"#f5f5f5"},
{"offset":0.38,"color":"#d9d9d9"},{"offset":0.385,"color":"#f5f5f5"},{"offset":0.39,"color":"#d9d9d9"},{"offset":0.395,"color":"#f5f5f5"},
{"offset":0.4,"color":"#d9d9d9"},{"offset":0.405,"color":"#f5f5f5"},{"offset":0.41,"color":"#d9d9d9"},{"offset":0.415,"color":"#f5f5f5"},
{"offset":0.42,"color":"#d9d9d9"},{"offset":0.425,"color":"#f5f5f5"},{"offset":0.43,"color":"#d9d9d9"},{"offset":0.435,"color":"#f5f5f5"},
{"offset":0.44,"color":"#d9d9d9"},{"offset":0.445,"color":"#f5f5f5"},{"offset":0.45,"color":"#d9d9d9"},{"offset":0.455,"color":"#f5f5f5"},
{"offset":0.46,"color":"#d9d9d9"},{"offset":0.465,"color":"#f5f5f5"},{"offset":0.47,"color":"#d9d9d9"},{"offset":0.475,"color":"#f5f5f5"},
{"offset":0.48,"color":"#d9d9d9"},{"offset":0.485,"color":"#f5f5f5"},{"offset":0.49,"color":"#d9d9d9"},{"offset":0.495,"color":"#f5f5f5"},
{"offset":0.5,"color":"#d9d9d9"},{"offset":0.505,"color":"#f5f5f5"},{"offset":0.51,"color":"#d9d9d9"},{"offset":0.515,"color":"#f5f5f5"},
{"offset":0.52,"color":"#d9d9d9"},{"offset":0.525,"color":"#f5f5f5"},{"offset":0.53,"color":"#d9d9d9"},{"offset":0.535,"color":"#f5f5f5"},
{"offset":0.54,"color":"#d9d9d9"},{"offset":0.545,"color":"#f5f5f5"},{"offset":0.55,"color":"#d9d9d9"},{"offset":0.555,"color":"#f5f5f5"},
{"offset":0.56,"color":"#d9d9d9"},{"offset":0.565,"color":"#f5f5f5"},{"offset":0.57,"color":"#d9d9d9"},{"offset":0.575,"color":"#f5f5f5"},
{"offset":0.58,"color":"#d9d9d9"},{"offset":0.585,"color":"#f5f5f5"},{"offset":0.59,"color":"#d9d9d9"},{"offset":0.595,"color":"#f5f5f5"},
{"offset":0.6,"color":"#d9d9d9"},{"offset":0.605,"color":"#f5f5f5"},{"offset":0.61,"color":"#d9d9d9"},{"offset":0.615,"color":"#f5f5f5"},
{"offset":0.62,"color":"#d9d9d9"},{"offset":0.625,"color":"#f5f5f5"},{"offset":0.63,"color":"#d9d9d9"},{"offset":0.635,"color":"#f5f5f5"},
{"offset":0.64,"color":"#d9d9d9"},{"offset":0.645,"color":"#f5f5f5"},{"offset":0.65,"color":"#d9d9d9"},{"offset":0.655,"color":"#f5f5f5"},
{"offset":0.66,"color":"#d9d9d9"},{"offset":0.665,"color":"#f5f5f5"},{"offset":0.67,"color":"#d9d9d9"},{"offset":0.675,"color":"#f5f5f5"},
{"offset":0.68,"color":"#d9d9d9"},{"offset":0.685,"color":"#f5f5f5"},{"offset":0.69,"color":"#d9d9d9"},{"offset":0.695,"color":"#f5f5f5"},
{"offset":0.7,"color":"#d9d9d9"},{"offset":0.705,"color":"#f5f5f5"},{"offset":0.71,"color":"#d9d9d9"}
]}},
"data":{"values":[
{"nivel":"Medio superior y superior","pct":38.7,"orden":1},
{"nivel":"Secundaria completa","pct":38.7,"orden":2},
{"nivel":"Primaria completa","pct":17.7,"orden":3},
{"nivel":"Primaria incompleta","pct":4.9,"orden":4}
]},
"transform":[{"stack":"pct","groupby":[],"sort":[{"field":"orden","order":"ascending"}],"as":["x0","x1"]}],
"encoding":{"x":{"field":"x0","type":"quantitative","scale":{"domain":[0,100]},"axis":null}},
"layer":[
{"mark":{"type":"rect","fill":"transparent","stroke":"#ffffff","strokeWidth":2},
 "encoding":{"x2":{"field":"x1"},"y":{"datum":0,"type":"quantitative","scale":{"domain":[0,1]},"axis":null},"y2":{"datum":1}}},
{"transform":[{"filter":"datum.pct > 30"}],
 "mark":{"type":"rect","stroke":"#ffffff","strokeWidth":2,"fill":{"gradient":"linear","x1":0,"y1":0,"x2":1.82944,"y2":0.70462,"stops":[
{"offset":0,"color":"#d71b47"},{"offset":0.01,"color":"#d71b47"},{"offset":0.015,"color":"#ef7d96"},
{"offset":0.02,"color":"#d71b47"},{"offset":0.03,"color":"#d71b47"},{"offset":0.035,"color":"#ef7d96"},
{"offset":0.04,"color":"#d71b47"},{"offset":0.05,"color":"#d71b47"},{"offset":0.055,"color":"#ef7d96"},
{"offset":0.06,"color":"#d71b47"},{"offset":0.07,"color":"#d71b47"},{"offset":0.075,"color":"#ef7d96"},
{"offset":0.08,"color":"#d71b47"},{"offset":0.09,"color":"#d71b47"},{"offset":0.095,"color":"#ef7d96"},
{"offset":0.1,"color":"#d71b47"},{"offset":0.11,"color":"#d71b47"},{"offset":0.115,"color":"#ef7d96"},
{"offset":0.12,"color":"#d71b47"},{"offset":0.13,"color":"#d71b47"},{"offset":0.135,"color":"#ef7d96"},
{"offset":0.14,"color":"#d71b47"},{"offset":0.15,"color":"#d71b47"},{"offset":0.155,"color":"#ef7d96"},
{"offset":0.16,"color":"#d71b47"},{"offset":0.17,"color":"#d71b47"},{"offset":0.175,"color":"#ef7d96"},
{"offset":0.18,"color":"#d71b47"},{"offset":0.19,"color":"#d71b47"},{"offset":0.195,"color":"#ef7d96"},
{"offset":0.2,"color":"#d71b47"},{"offset":0.21,"color":"#d71b47"},{"offset":0.215,"color":"#ef7d96"},
{"offset":0.22,"color":"#d71b47"},{"offset":0.23,"color":"#d71b47"},{"offset":0.235,"color":"#ef7d96"},
{"offset":0.24,"color":"#d71b47"},{"offset":0.25,"color":"#d71b47"},{"offset":0.255,"color":"#ef7d96"},
{"offset":0.26,"color":"#d71b47"},{"offset":0.27,"color":"#d71b47"},{"offset":0.275,"color":"#ef7d96"},
{"offset":0.28,"color":"#d71b47"},{"offset":0.29,"color":"#d71b47"},{"offset":0.295,"color":"#ef7d96"},
{"offset":0.3,"color":"#d71b47"},{"offset":0.31,"color":"#d71b47"},{"offset":0.315,"color":"#ef7d96"},
{"offset":0.32,"color":"#d71b47"},{"offset":0.33,"color":"#d71b47"},{"offset":0.335,"color":"#ef7d96"},
{"offset":0.34,"color":"#d71b47"},{"offset":0.35,"color":"#d71b47"},{"offset":0.355,"color":"#ef7d96"},
{"offset":0.36,"color":"#d71b47"},{"offset":0.37,"color":"#d71b47"},{"offset":0.375,"color":"#ef7d96"},
{"offset":0.38,"color":"#d71b47"},{"offset":0.39,"color":"#d71b47"},{"offset":0.395,"color":"#ef7d96"},
{"offset":0.4,"color":"#d71b47"},{"offset":0.41,"color":"#d71b47"},{"offset":0.415,"color":"#ef7d96"},
{"offset":0.42,"color":"#d71b47"},{"offset":0.43,"color":"#d71b47"},{"offset":0.435,"color":"#ef7d96"},
{"offset":0.44,"color":"#d71b47"},{"offset":0.45,"color":"#d71b47"},{"offset":0.455,"color":"#ef7d96"},
{"offset":0.46,"color":"#d71b47"},{"offset":0.47,"color":"#d71b47"},{"offset":0.475,"color":"#ef7d96"},
{"offset":0.48,"color":"#d71b47"},{"offset":0.49,"color":"#d71b47"},{"offset":0.495,"color":"#ef7d96"},
{"offset":0.5,"color":"#d71b47"},{"offset":0.51,"color":"#d71b47"},{"offset":0.515,"color":"#ef7d96"},
{"offset":0.52,"color":"#d71b47"},{"offset":0.53,"color":"#d71b47"},{"offset":0.535,"color":"#ef7d96"},
{"offset":0.54,"color":"#d71b47"},{"offset":0.55,"color":"#d71b47"},{"offset":0.555,"color":"#ef7d96"},
{"offset":0.56,"color":"#d71b47"},{"offset":0.57,"color":"#d71b47"},{"offset":0.575,"color":"#ef7d96"},
{"offset":0.58,"color":"#d71b47"},{"offset":0.59,"color":"#d71b47"},{"offset":0.595,"color":"#ef7d96"},
{"offset":0.6,"color":"#d71b47"},{"offset":0.61,"color":"#d71b47"},{"offset":0.615,"color":"#ef7d96"},
{"offset":0.62,"color":"#d71b47"},{"offset":0.63,"color":"#d71b47"},{"offset":0.635,"color":"#ef7d96"},
{"offset":0.64,"color":"#d71b47"},{"offset":0.65,"color":"#d71b47"},{"offset":0.655,"color":"#ef7d96"},
{"offset":0.66,"color":"#d71b47"},{"offset":0.67,"color":"#d71b47"},{"offset":0.675,"color":"#ef7d96"},
{"offset":0.68,"color":"#d71b47"}
]}},
 "encoding":{"x2":{"field":"x1"},"y":{"datum":0,"type":"quantitative"},"y2":{"datum":1}}},
{"transform":[{"filter":"datum.pct > 30"}],
 "mark":{"type":"text","align":"left","baseline":"middle","dx":3,"fontSize":11.5,"color":"#f9c0cd","font":"Lato"},
 "encoding":{"y":{"datum":0.8,"type":"quantitative"},"text":{"field":"nivel","type":"nominal"}}},
{"transform":[{"filter":"datum.pct > 30"}],
 "mark":{"type":"text","align":"left","baseline":"middle","dx":3,"fontSize":11.5,"fontWeight":"bold","color":"#fbd3dc","font":"Lato"},
 "encoding":{"y":{"datum":0.56,"type":"quantitative"},"text":{"field":"pct","type":"quantitative","format":".1f"}}},
{"transform":[{"filter":"datum.nivel === 'Primaria completa'"}],
 "encoding":{"x":{"field":"x1","type":"quantitative"}},
 "layer":[
 {"mark":{"type":"rule","xOffset":-6,"color":"#222222","strokeWidth":1},"encoding":{"y":{"datum":0.27,"type":"quantitative"},"y2":{"datum":-0.22}}},
 {"mark":{"type":"circle","xOffset":-6,"size":9,"color":"#111111","opacity":1},"encoding":{"y":{"datum":0.27,"type":"quantitative"}}},
 {"mark":{"type":"text","align":"right","baseline":"middle","dx":-9,"fontSize":11.5,"fontWeight":"bold","color":"#111111","font":"Lato"},"encoding":{"y":{"datum":-0.165,"type":"quantitative"},"text":{"field":"pct","type":"quantitative","format":".1f"}}},
 {"mark":{"type":"text","align":"right","baseline":"middle","dx":-34,"fontSize":11.5,"color":"#333333","font":"Lato"},"encoding":{"y":{"datum":-0.165,"type":"quantitative"},"text":{"field":"nivel","type":"nominal"}}}
 ]},
{"transform":[{"filter":"datum.nivel === 'Primaria incompleta'"}],
 "encoding":{"x":{"field":"x1","type":"quantitative"}},
 "layer":[
 {"mark":{"type":"rule","xOffset":-5,"color":"#222222","strokeWidth":1},"encoding":{"y":{"datum":0.27,"type":"quantitative"},"y2":{"datum":-0.53}}},
 {"mark":{"type":"circle","xOffset":-5,"size":9,"color":"#111111","opacity":1},"encoding":{"y":{"datum":0.27,"type":"quantitative"}}},
 {"mark":{"type":"text","align":"right","baseline":"middle","dx":-9,"fontSize":11.5,"fontWeight":"bold","color":"#111111","font":"Lato"},"encoding":{"y":{"datum":-0.42,"type":"quantitative"},"text":{"field":"pct","type":"quantitative","format":".1f"}}},
 {"mark":{"type":"text","align":"right","baseline":"middle","dx":-28,"fontSize":11.5,"color":"#333333","font":"Lato"},"encoding":{"y":{"datum":-0.42,"type":"quantitative"},"text":{"field":"nivel","type":"nominal"}}}
 ]},
{"transform":[{"filter":"datum.orden === 1"}],
 "mark":{"type":"text","align":"left","baseline":"top","fontSize":8,"lineHeight":8.5,"color":"#333333","font":"Lato"},
 "encoding":{"x":{"datum":0,"type":"quantitative"},"y":{"datum":-0.7,"type":"quantitative"},"text":{"value":["Nota: Las cifras corresponden a los desocupados abiertos que andan buscando activamente empleo.","Fuente: Encuesta Telefónica de Ocupación y Empleo de junio de 2020, Inegi."]}}}
]
}
]
}
